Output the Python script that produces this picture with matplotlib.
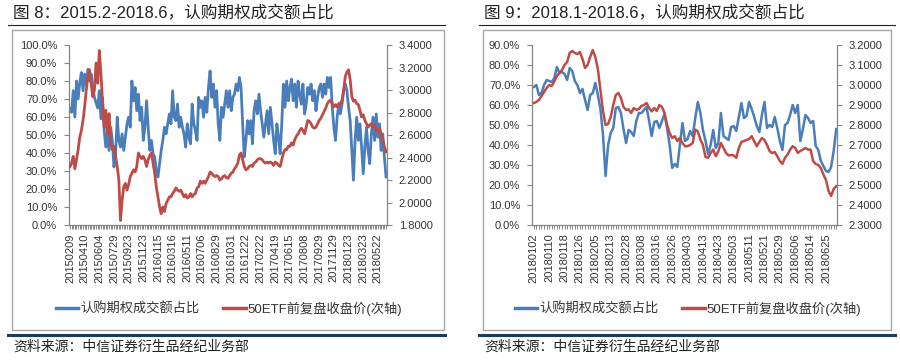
import numpy as np
import matplotlib
matplotlib.use('Agg')
import matplotlib.pyplot as plt
from matplotlib.lines import Line2D
from matplotlib.patches import Rectangle
from matplotlib.ticker import PercentFormatter, FormatStrFormatter

plt.rcParams['font.family'] = ['Liberation Sans', 'Noto Sans CJK SC', 'DejaVu Sans']

BLUE = '#4a7ebb'
RED = '#be4b48'
GREY = '#868686'
TXT = '#333333'

# ---- left panel: 2015.2 - 2018.6 (sampled series) ----
left_labels = ['20150209', '20150410', '20150604', '20150729', '20150923',
               '20151123', '20160115', '20160316', '20160511', '20160706',
               '20160829', '20161031', '20161222', '20170222', '20170419',
               '20170615', '20170808', '20170929', '20171129', '20180123',
               '20180323', '20180522']

left_call_share = [
    64.5, 62.6, 74.6, 60, 80, 70, 79, 84.7, 74.6, 83.8,
    78, 86.5, 80, 83.8, 76.4, 70.9, 68, 65, 74.6, 59,
    70.9, 52.5, 43.3, 50.6, 41.4, 54.3, 47, 32.2, 39.6, 59.9,
    47, 43.3, 50.6, 41.4, 48.8, 56.2, 59.9, 54.3, 80, 69,
    76.4, 63.5, 72.7, 58, 65.4, 47, 54.3, 69, 54.3, 41.4,
    47, 39.6, 37.8, 30.4, 26.7, 34.1, 41.4, 47, 54.3, 50.6,
    56.2, 61.7, 56.2, 74.6, 59.9, 58, 67.2, 54.3, 59.9, 54.3,
    50.6, 43.3, 56.2, 48.8, 45.1, 67.2, 56.2, 52.5, 47, 70.9,
    65.4, 69, 59.9, 70.9, 62.6, 76.4, 85.6, 70.9, 78.3, 65.4,
    74.6, 56.2, 47, 65.4, 59.9, 67.2, 74.6,
    65.4, 74.6, 63.5, 70.9, 72.7, 78.3, 74.6, 82, 76.4, 56.2,
    37.8, 47, 58, 50.6, 58, 45.1, 63.5, 69, 61.7, 72.7,
    63.5, 56.2, 48.8, 56.2, 63.5, 50.6, 65.4, 56.2, 47, 39.6,
    56.2, 48.8, 39.6, 56.2, 78.3, 65.4, 80, 69, 76.4, 81,
    69, 78.3, 65.4, 80, 72.7, 67.2, 78.3, 61.7, 67.2, 76.4,
    72.7, 78.3, 69, 74.6, 63.5, 70.9, 76.4, 78.3, 70.9, 78.3,
    72.7, 82, 76.4, 82, 65.4, 54.3, 47, 59.9, 67.2, 61.7,
    67.2, 74.6, 78.3, 74.6, 65.4, 58, 41.4, 24.9, 47, 59.9,
    47, 56.2, 43.3, 28.5, 43.3, 54.3, 41.4, 34.1, 50.6, 59.9,
    47, 61.7, 48.8, 56.2, 41.4, 50.6, 37.8, 26.7,
]

left_etf_close = [
    2.32, 2.35, 2.41, 2.30, 2.38, 2.47, 2.58, 2.64, 2.73, 2.85,
    3.00, 3.12, 3.18, 3.06, 2.94, 3.00, 3.24, 3.06, 3.35, 3.15,
    2.88, 2.67, 2.82, 2.61, 2.79, 2.53, 2.47, 2.50, 2.41, 2.32,
    2.20, 1.84, 2.02, 2.14, 2.17, 2.11, 2.16, 2.23, 2.26, 2.29,
    2.27, 2.32, 2.44, 2.41, 2.39, 2.41, 2.38, 2.32, 2.38, 2.42,
    2.44, 2.35, 2.26, 2.14, 2.05, 1.96, 1.90, 1.96, 1.92, 1.99,
    2.02, 2.05, 2.05, 2.08, 2.10, 2.13, 2.11, 2.10, 2.11, 2.08,
    2.05, 2.07, 2.04, 2.05, 2.08, 2.05, 2.07, 2.08, 2.13, 2.14,
    2.19, 2.17, 2.19, 2.17, 2.20, 2.23, 2.27, 2.26, 2.24, 2.23,
    2.24, 2.23, 2.20, 2.21, 2.23, 2.24, 2.22,
    2.215, 2.24, 2.26, 2.27, 2.30, 2.32, 2.35, 2.42, 2.44, 2.38,
    2.32, 2.29, 2.30, 2.32, 2.33, 2.32, 2.35, 2.36, 2.38, 2.39,
    2.39, 2.38, 2.36, 2.35, 2.36, 2.35, 2.36, 2.35, 2.33, 2.36,
    2.35, 2.33, 2.32, 2.38, 2.44, 2.47, 2.47, 2.50, 2.50, 2.53,
    2.51, 2.56, 2.59, 2.61, 2.64, 2.66, 2.64, 2.61, 2.67, 2.73,
    2.72, 2.70, 2.67, 2.66, 2.67, 2.70, 2.73, 2.75, 2.78, 2.81,
    2.84, 2.88, 2.90, 2.91, 2.88, 2.85, 2.87, 2.85, 2.88, 2.87,
    2.91, 3.00, 3.12, 3.16, 3.18, 3.09, 2.94, 2.90, 2.91, 2.88,
    2.87, 2.82, 2.76, 2.78, 2.73, 2.70, 2.67, 2.69, 2.70, 2.67,
    2.69, 2.64, 2.63, 2.66, 2.61, 2.56, 2.50, 2.45,
]

# ---- right panel: 2018.1 - 2018.6 (daily) ----
right_labels = ['20180102', '20180110', '20180118', '20180126', '20180205',
                '20180213', '20180228', '20180308', '20180316', '20180326',
                '20180403', '20180413', '20180423', '20180503', '20180511',
                '20180521', '20180529', '20180606', '20180614', '20180625']

right_call_share = [
    69, 70, 65, 66, 70, 72.5, 72, 71.5, 73.5, 79,
    76, 76.5, 75.5, 72.5, 78.5, 77, 72, 70, 66, 68,
    62.5, 57.5, 65, 66, 71, 65, 58, 45, 24.5, 40,
    46, 48.5, 58.5, 59, 56, 48, 41, 47.5, 46.5, 44.5,
    52, 56, 56, 57.5, 59, 52, 44.5, 51.5, 52, 48.5,
    52, 55.5, 48.5, 40, 28.5, 30.5, 29, 40, 51, 42,
    43, 47, 44.5, 53.5, 61.5, 56, 47.5, 42, 35.5, 40,
    47.5, 38.5, 41, 56, 44.5, 43.5, 42.5, 49, 49.5, 47,
    54, 61, 53.5, 54.5, 61.5, 58, 54, 49.5, 46.5, 55,
    61.5, 48.5, 50, 49, 54, 48.5, 42, 37.5, 50, 51,
    55, 60, 56, 60, 42, 48, 55, 53.5, 51, 52,
    39.5, 37.5, 32, 29.5, 27, 26.5, 29, 37, 48,
]

right_etf_close = [
    2.910, 2.915, 2.925, 2.945, 2.965, 2.985, 3.000, 2.995, 3.018, 3.045,
    3.060, 3.075, 3.100, 3.115, 3.160, 3.170, 3.160, 3.155, 3.165, 3.130,
    3.085, 3.100, 3.140, 3.175, 3.140, 3.080, 2.975, 2.870, 2.800, 2.805,
    2.840, 2.900, 2.950, 2.960, 2.935, 2.890, 2.876, 2.878, 2.860, 2.885,
    2.876, 2.880, 2.895, 2.900, 2.910, 2.885, 2.868, 2.885, 2.870, 2.900,
    2.890, 2.860, 2.800, 2.760, 2.735, 2.744, 2.720, 2.735, 2.710, 2.694,
    2.694, 2.700, 2.710, 2.777, 2.768, 2.727, 2.700, 2.640, 2.636, 2.660,
    2.677, 2.644, 2.669, 2.710, 2.685, 2.660, 2.648, 2.650, 2.648, 2.636,
    2.685, 2.715, 2.720, 2.725, 2.730, 2.744, 2.719, 2.694, 2.715, 2.735,
    2.725, 2.700, 2.669, 2.660, 2.665, 2.644, 2.620, 2.606, 2.636, 2.652,
    2.677, 2.694, 2.685, 2.660, 2.670, 2.677, 2.685, 2.677, 2.677, 2.619,
    2.605, 2.600, 2.585, 2.552, 2.525, 2.470, 2.445, 2.480, 2.494,
]

legend_labels = ['认购期权成交额占比', '50ETF前复盘收盘价(次轴)']

W, H = 900, 361
fig = plt.figure(figsize=(9, 3.61), dpi=100)
fig.patch.set_facecolor('white')


def fx(px):
    return px / W


def fy(py):
    return 1 - py / H


def style_axes(ax, axr):
    for s in ['top', 'right']:
        ax.spines[s].set_visible(False)
    for s in ['top', 'left', 'bottom']:
        axr.spines[s].set_visible(False)
    for sp in [ax.spines['left'], ax.spines['bottom'], axr.spines['right']]:
        sp.set_color(GREY)
        sp.set_linewidth(0.9)
    ax.tick_params(axis='y', direction='out', length=3.5, width=0.8, color=GREY,
                   labelsize=8, labelcolor=TXT, pad=5)
    axr.tick_params(axis='y', direction='out', length=3.5, width=0.8, color=GREY,
                    labelsize=8, labelcolor=TXT, pad=5)
    ax.tick_params(axis='x', which='both', direction='out', length=3, width=0.7,
                   color=GREY, labelsize=8, labelcolor=TXT, pad=3)


def panel(rect, share, close, labels, step, ylim, y2lim, y2ticks, lw):
    ax = fig.add_axes(rect)
    axr = ax.twinx()
    n = len(share)
    x = np.arange(n)
    ax.plot(x, share, color=BLUE, lw=lw, solid_joinstyle='round')
    axr.plot(np.arange(len(close)), close, color=RED, lw=lw, solid_joinstyle='round')
    ax.set_ylim(*ylim)
    ax.set_yticks(np.arange(0, ylim[1] + 0.1, 10))
    ax.yaxis.set_major_formatter(PercentFormatter(xmax=100, decimals=1))
    axr.set_ylim(*y2lim)
    axr.set_yticks(y2ticks)
    axr.yaxis.set_major_formatter(FormatStrFormatter('%.4f'))
    ax.set_xticks(np.arange(len(labels)) * step)
    ax.set_xticklabels(labels, rotation=90, va='top', ha='center')
    ax.set_xticks(x, minor=True)
    style_axes(ax, axr)
    return ax, axr


# left panel
axL, axLr = panel([fx(69), fy(225), fx(318), 180 / H],
                  left_call_share, left_etf_close, left_labels, 9,
                  (0, 100), (1.8, 3.4), np.arange(1.8, 3.41, 0.2), 2.0)
axL.set_xlim(-0.6, 194.6)

# right panel
axR, axRr = panel([fx(532), fy(225), fx(305), 180 / H],
                  right_call_share, right_etf_close, right_labels, 6,
                  (0, 90), (2.3, 3.2), np.arange(2.3, 3.21, 0.1), 1.8)
axR.set_xlim(-0.7, 118.3)

# frames, titles, rules, footers
for (x0, x1, bx0, bx1, title, lx) in [
        (8, 445, 12, 444, '图 8：2015.2-2018.6，认购期权成交额占比', 229),
        (479, 895, 483, 891, '图 9：2018.1-2018.6，认购期权成交额占比', 688)]:
    fig.add_artist(Rectangle((fx(bx0), fy(330)), fx(bx1 - bx0), 300 / H,
                             transform=fig.transFigure, fill=False,
                             ec='#a6a6a6', lw=1.0))
    fig.text(fx(bx0 + 1), fy(13), title, fontsize=12, color='#222222',
             ha='left', va='center')
    fig.add_artist(Line2D([fx(x0), fx(x1)], [fy(24.5)] * 2, color='#222222',
                          lw=0.8, transform=fig.transFigure))
    fig.add_artist(Line2D([fx(x0), fx(x1)], [fy(334.5)] * 2, color='#1f3a5f',
                          lw=2.2, transform=fig.transFigure))
    fig.text(fx(bx0 + 1), fy(347), '资料来源：中信证券衍生品经纪业务部',
             fontsize=10, style='italic', color='#222222', ha='left', va='center')
    handles = [Line2D([], [], color=BLUE, lw=2.5), Line2D([], [], color=RED, lw=2.5)]
    fig.legend(handles, legend_labels, loc='center',
               bbox_to_anchor=(fx(lx), fy(309)), ncol=2, frameon=False,
               fontsize=9.5, handlelength=1.7, handletextpad=0.15,
               columnspacing=1.8, labelcolor=TXT)

fig.savefig('out.png', dpi=100, facecolor='white')
